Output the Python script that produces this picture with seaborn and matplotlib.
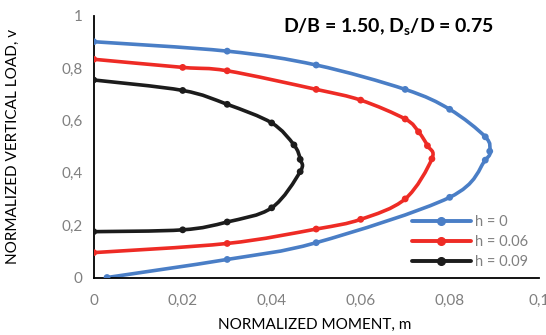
import numpy as np
import pandas as pd
import matplotlib
matplotlib.use("Agg")
import matplotlib.pyplot as plt
import seaborn as sns
from matplotlib.path import Path
from matplotlib.patches import PathPatch
from matplotlib.lines import Line2D

# ---- data ----
h0_m = [0.0, 0.03, 0.05, 0.07, 0.08, 0.088, 0.089, 0.088, 0.08, 0.05, 0.03, 0.003]
h0_v = [0.900, 0.864, 0.811, 0.718, 0.642, 0.537, 0.482, 0.448, 0.306, 0.133, 0.069, 0.0]

h06_m = [0.0, 0.02, 0.03, 0.05, 0.06, 0.07, 0.073, 0.075, 0.076, 0.07, 0.06, 0.05, 0.03, 0.0]
h06_v = [0.833, 0.802, 0.789, 0.718, 0.677, 0.605, 0.556, 0.503, 0.453, 0.300, 0.222, 0.185, 0.130, 0.095]

h09_m = [0.0, 0.02, 0.03, 0.04, 0.045, 0.0464, 0.0464, 0.04, 0.03, 0.02, 0.0]
h09_v = [0.754, 0.714, 0.661, 0.590, 0.506, 0.451, 0.404, 0.266, 0.212, 0.182, 0.175]

series_labels = ["h = 0", "h = 0.06", "h = 0.09"]
colors = ["#4A7EC6", "#EE2B25", "#1C1C1C"]

x_ticks = [0, 0.02, 0.04, 0.06, 0.08, 0.1]
x_tick_labels = ["0", "0,02", "0,04", "0,06", "0,08", "0,1"]
y_ticks = [0, 0.2, 0.4, 0.6, 0.8, 1.0]
y_tick_labels = ["0", "0,2", "0,4", "0,6", "0,8", "1"]

title = r"D/B = 1.50, D$_\mathbf{s}$/D = 0.75"
x_label = "NORMALIZED MOMENT, m"
y_label = "NORMALIZED VERTICAL LOAD, v"

# ---- style ----
sns.set_style("white")
plt.rcParams["font.family"] = ["Lato", "DejaVu Sans"]
plt.rcParams["mathtext.fontset"] = "custom"
plt.rcParams["mathtext.rm"] = "Lato"
plt.rcParams["mathtext.bf"] = "Lato:bold"

frames = []
for lab, m, v in zip(series_labels, [h0_m, h06_m, h09_m], [h0_v, h06_v, h09_v]):
    frames.append(pd.DataFrame({"m": m, "v": v, "series": lab}))
df = pd.concat(frames, ignore_index=True)

fig = plt.figure(figsize=(5.46, 3.35), dpi=100)
ax = fig.add_axes([0.1716, 0.1716, 0.8150, 0.7821])
ax.set_xlim(0, 0.1)
ax.set_ylim(0, 1)


def smooth_path(ax, m, v):
    pts = ax.transData.transform(np.column_stack([m, v]))
    n = len(pts)
    verts = [pts[0]]
    codes = [Path.MOVETO]
    for i in range(n - 1):
        p0 = pts[i - 1] if i > 0 else pts[i]
        p1 = pts[i]
        p2 = pts[i + 1]
        p3 = pts[i + 2] if i + 2 < n else pts[i + 1]
        c1 = p1 + (p2 - p0) / 6.0
        c2 = p2 - (p3 - p1) / 6.0
        verts += [c1, c2, p2]
        codes += [Path.CURVE4] * 3
    verts = ax.transData.inverted().transform(np.array(verts))
    return Path(verts, codes)


for lab, col in zip(series_labels, colors):
    sub = df[df["series"] == lab]
    path = smooth_path(ax, sub["m"].values, sub["v"].values)
    ax.add_patch(PathPatch(path, facecolor="none", edgecolor=col, lw=2.6,
                           capstyle="round", joinstyle="round", zorder=2))

sns.scatterplot(data=df, x="m", y="v", hue="series", palette=colors,
                hue_order=series_labels, s=24, edgecolor="none",
                legend=False, ax=ax, zorder=3)

ax.set_xlim(0, 0.1)
ax.set_ylim(0, 1)
ax.set_xticks(x_ticks)
ax.set_xticklabels(x_tick_labels)
ax.set_yticks(y_ticks)
ax.set_yticklabels(y_tick_labels)
ax.tick_params(axis="both", direction="inout", length=6, width=1.3,
               color="black", labelcolor="#808080", labelsize=11, pad=5)
ax.tick_params(axis="x", pad=9)
for s in ["top", "right"]:
    ax.spines[s].set_visible(False)
for s in ["left", "bottom"]:
    ax.spines[s].set_color("black")
    ax.spines[s].set_linewidth(1.3)
ax.grid(False)

ax.set_xlabel(x_label, fontsize=11, color="black")
ax.set_ylabel(y_label, fontsize=11, color="black")
ax.xaxis.set_label_coords(0.497, -0.181)
ax.yaxis.set_label_coords(-0.181, 0.5)
ax.xaxis.label.set_va("center")
ax.yaxis.label.set_va("center")

fig.text(0.518, 0.918, title, fontsize=14, fontweight="bold", ha="left",
         va="center", color="black")

handles = [Line2D([0], [0], color=c, lw=2.8, marker="o", markersize=5.5)
           for c in colors]
leg = ax.legend(handles, series_labels, loc="upper left",
                bbox_to_anchor=(0.7146, 0.238), borderaxespad=0, borderpad=0,
                frameon=False, handlelength=4.05,
                fontsize=10.5, labelspacing=0.42, handletextpad=0.3)
for t in leg.get_texts():
    t.set_color("#808080")

fig.savefig("out.png", dpi=100)
